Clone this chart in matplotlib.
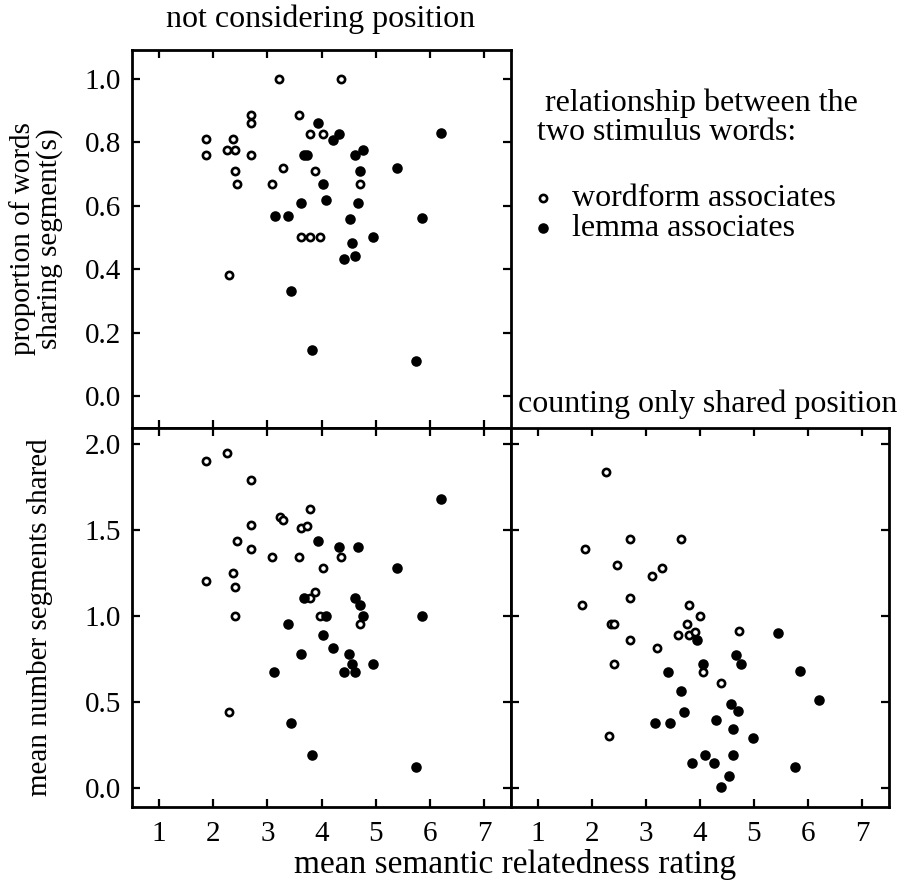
import matplotlib
matplotlib.use("Agg")
import matplotlib.pyplot as plt
from matplotlib.ticker import FormatStrFormatter
from matplotlib.lines import Line2D

plt.rcParams['font.family'] = ['Liberation Serif', 'DejaVu Serif']

# panel 1: proportion of words sharing segment(s), not considering position
top_wf_x = [1.87, 1.87, 2.36, 2.25, 2.41, 2.70, 2.70, 2.70, 2.40, 2.44, 3.09, 3.29,
            3.59, 3.79, 4.02, 3.88, 4.72, 3.63, 3.78, 3.97, 2.30, 3.22, 4.36]
top_wf_y = [0.809, 0.760, 0.809, 0.775, 0.775, 0.885, 0.859, 0.760, 0.710, 0.667, 0.667, 0.717,
            0.885, 0.826, 0.826, 0.710, 0.667, 0.500, 0.500, 0.500, 0.381, 1.000, 1.000]
top_lm_x = [3.93, 4.22, 4.33, 3.68, 3.74, 4.62, 4.76, 4.71, 4.02, 4.08, 3.63, 4.67, 3.14,
            3.39, 4.52, 4.57, 3.44, 4.42, 4.62, 3.82, 4.95, 5.40, 6.20, 5.85, 5.75]
top_lm_y = [0.861, 0.808, 0.827, 0.760, 0.760, 0.758, 0.776, 0.710, 0.667, 0.617, 0.609, 0.609, 0.566,
            0.566, 0.559, 0.482, 0.331, 0.431, 0.441, 0.147, 0.500, 0.720, 0.830, 0.560, 0.110]

# panel 2: mean number segments shared, not considering position
mid_wf_x = [1.87, 2.25, 2.70, 3.24, 3.29, 3.79, 3.63, 3.74, 2.70, 2.44, 2.70, 3.09,
            3.58, 4.36, 4.02, 2.36, 1.87, 2.40, 3.88, 3.79, 2.40, 2.30, 3.97, 4.71]
mid_wf_y = [1.897, 1.946, 1.789, 1.572, 1.558, 1.620, 1.508, 1.523, 1.525, 1.432, 1.386, 1.339,
            1.339, 1.339, 1.277, 1.246, 1.199, 1.169, 1.138, 1.106, 0.998, 0.440, 0.998, 0.952]
mid_lm_x = [3.93, 4.32, 4.67, 3.68, 4.62, 4.71, 3.39, 4.08, 4.76, 4.02, 4.22, 3.63,
            4.51, 4.57, 4.42, 4.62, 3.13, 3.44, 3.82, 4.95, 5.40, 6.20, 5.85, 5.75]
mid_lm_y = [1.432, 1.401, 1.401, 1.106, 1.106, 1.064, 0.952, 0.998, 0.998, 0.890, 0.812, 0.781,
            0.781, 0.719, 0.672, 0.672, 0.672, 0.378, 0.192, 0.720, 1.280, 1.680, 1.000, 0.120]

# panel 3: mean number segments shared, counting only shared position
pos_wf_x = [1.87, 1.82, 2.26, 2.31, 2.36, 2.41, 2.41, 2.46, 2.71, 2.71, 2.71, 3.11,
            3.20, 3.30, 3.60, 3.65, 3.75, 3.80, 3.80, 3.90, 4.00, 4.05, 4.39, 4.72]
pos_wf_y = [1.386, 1.060, 1.835, 0.300, 0.952, 0.952, 0.719, 1.292, 1.448, 1.106, 0.859, 1.231,
            0.812, 1.277, 0.890, 1.448, 0.952, 1.060, 0.890, 0.905, 0.998, 0.672, 0.610, 0.910]
pos_lm_x = [3.16, 3.40, 3.45, 3.65, 3.70, 3.85, 3.95, 4.05, 4.10, 4.25, 4.30, 4.39,
            4.53, 4.57, 4.71, 4.62, 4.62, 4.67, 4.76, 4.98, 5.45, 5.85, 6.20, 5.75]
pos_lm_y = [0.378, 0.672, 0.378, 0.564, 0.440, 0.145, 0.859, 0.719, 0.192, 0.145, 0.395, 0.006,
            0.068, 0.490, 0.450, 0.340, 0.190, 0.770, 0.720, 0.290, 0.900, 0.680, 0.510, 0.120]

x_ticks = [1, 2, 3, 4, 5, 6, 7]
top_yticks = [0.0, 0.2, 0.4, 0.6, 0.8, 1.0]
low_yticks = [0.0, 0.5, 1.0, 1.5, 2.0]

FS_TICK = 21
FS_TEXT = 23
FS_XLAB = 24
FS_YLAB = 21
open_style = dict(marker='o', linestyle='none', ms=5.2, mew=1.9, mfc='white', mec='black')
fill_style = dict(marker='o', linestyle='none', ms=7.6, mew=0, mfc='black')


def style_axes(ax):
    for s in ax.spines.values():
        s.set_linewidth(2.0)
    ax.tick_params(direction='in', top=True, right=True, length=5.5, width=1.6,
                   labelsize=FS_TICK)
    ax.tick_params(axis='x', pad=10)
    ax.tick_params(axis='y', pad=8)
    ax.set_xlim(0.5, 7.5)
    ax.set_xticks(x_ticks)


def scatter_pair(ax, wx, wy, lx, ly):
    ax.plot(wx, wy, **open_style)
    ax.plot(lx, ly, **fill_style)


fig = plt.figure(figsize=(9.01, 8.9), dpi=100)

L, W = 132 / 901, 379 / 901
ax1 = fig.add_axes([L, 462 / 890, W, 378 / 890])
ax2 = fig.add_axes([L, 83 / 890, W, 379 / 890])
ax3 = fig.add_axes([511 / 901, 83 / 890, 378 / 901, 379 / 890])

for ax in (ax1, ax2, ax3):
    style_axes(ax)

scatter_pair(ax1, top_wf_x, top_wf_y, top_lm_x, top_lm_y)
ax1.set_ylim(-0.1, 1.09)
ax1.set_yticks(top_yticks)
ax1.yaxis.set_major_formatter(FormatStrFormatter('%.1f'))
ax1.tick_params(labelbottom=False)

scatter_pair(ax2, mid_wf_x, mid_wf_y, mid_lm_x, mid_lm_y)
ax2.set_ylim(-0.11, 2.09)
ax2.set_yticks(low_yticks)
ax2.yaxis.set_major_formatter(FormatStrFormatter('%.1f'))

scatter_pair(ax3, pos_wf_x, pos_wf_y, pos_lm_x, pos_lm_y)
ax3.set_ylim(-0.11, 2.09)
ax3.set_yticks(low_yticks)
ax3.tick_params(labelleft=False)

# titles and labels
fig.text(321 / 901, 1 - 19 / 890, "not considering position", ha='center', va='center', fontsize=FS_TEXT)
fig.text(708 / 901, 1 - 404 / 890, "counting only shared position", ha='center', va='center', fontsize=FS_TEXT)
fig.text(36 / 901, 1 - 239 / 890, "proportion of words\nsharing segment(s)", rotation=90,
         ha='center', va='center', fontsize=FS_YLAB, linespacing=1.05)
fig.text(40 / 901, 1 - 617 / 890, "mean number segments shared", rotation=90,
         ha='center', va='center', fontsize=FS_YLAB)
fig.text(515 / 901, 1 - 864 / 890, "mean semantic relatedness rating", ha='center', va='center', fontsize=FS_XLAB)

# legend block
fig.text(537 / 901, 1 - 103 / 890, " relationship between the", ha='left', va='center', fontsize=FS_TEXT)
fig.text(537 / 901, 1 - 133 / 890, "two stimulus words:", ha='left', va='center', fontsize=FS_TEXT)
fig.add_artist(Line2D([543 / 901], [1 - 198 / 890], transform=fig.transFigure, **open_style))
fig.add_artist(Line2D([543 / 901], [1 - 228 / 890], transform=fig.transFigure, **fill_style))
fig.text(572 / 901, 1 - 198 / 890, "wordform associates", ha='left', va='center', fontsize=FS_TEXT)
fig.text(572 / 901, 1 - 228 / 890, "lemma associates", ha='left', va='center', fontsize=FS_TEXT)

fig.savefig("out.png", dpi=100)
